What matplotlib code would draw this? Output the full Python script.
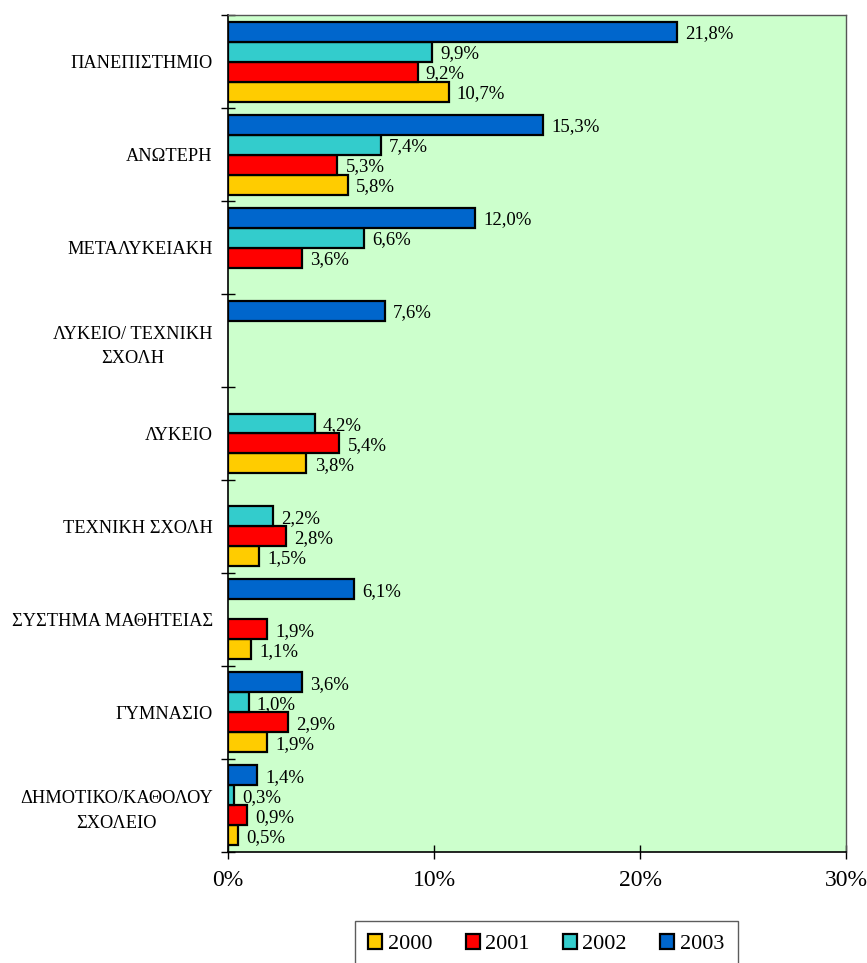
import matplotlib.pyplot as plt
import numpy as np
from matplotlib.patches import Patch

plt.rcParams['font.family'] = ['Liberation Serif', 'DejaVu Serif']

# dati
categorie = ["ΠΑΝΕΠΙΣΤΗΜΙΟ", "ΑΝΩΤΕΡΗ", "ΜΕΤΑΛΥΚΕΙΑΚΗ", "ΛΥΚΕΙΟ/ ΤΕΧΝΙΚΗ\nΣΧΟΛΗ",
             "ΛΥΚΕΙΟ", "ΤΕΧΝΙΚΗ ΣΧΟΛΗ", "ΣΥΣΤΗΜΑ ΜΑΘΗΤΕΙΑΣ", "ΓΥΜΝΑΣΙΟ",
             "ΔΗΜΟΤΙΚΟ/ΚΑΘΟΛΟΥ\nΣΧΟΛΕΙΟ"]
anni = ["2000", "2001", "2002", "2003"]
v2000 = [10.7, 5.8, None, None, 3.8, 1.5, 1.1, 1.9, 0.5]
v2001 = [9.2, 5.3, 3.6, None, 5.4, 2.8, 1.9, 2.9, 0.9]
v2002 = [9.9, 7.4, 6.6, None, 4.2, 2.2, None, 1.0, 0.3]
v2003 = [21.8, 15.3, 12.0, 7.6, None, None, 6.1, 3.6, 1.4]
colori = ["#FFCC00", "#FF0000", "#33CCCC", "#0066CC"]

serie = [v2000, v2001, v2002, v2003]
h = 0.215
offset = [1.5 * h, 0.5 * h, -0.5 * h, -1.5 * h]

fig = plt.figure(figsize=(8.67, 9.63), dpi=100)
ax = fig.add_axes([0.263, 0.1153, 0.713, 0.8691])
ax.set_facecolor("#CCFFCC")

y = np.arange(len(categorie))
for vals, col, off in zip(serie, colori, offset):
    for i, v in enumerate(vals):
        if v is None:
            continue
        ax.barh(y[i] + off, v, height=h, color=col, edgecolor="black", linewidth=1.6)
        ax.text(v + 0.4, y[i] + off + 0.02, f"{v:.1f}%".replace(".", ","),
                va="center", ha="left", fontsize=13.5)

ax.set_xlim(0, 30)
ax.set_ylim(len(categorie) - 0.5, -0.5)
ax.set_xticks([0, 10, 20, 30])
ax.set_xticklabels(["0%", "10%", "20%", "30%"], fontsize=17)
ax.tick_params(axis="x", direction="inout", length=10, width=1, pad=8)

ax.set_yticks(np.arange(-0.5, len(categorie), 1))
ax.set_yticklabels([])
ax.tick_params(axis="y", which="major", direction="inout", length=10, width=1)
ax.set_yticks(y, minor=True)
ax.set_yticklabels(categorie, minor=True, fontsize=13.2, multialignment="center", linespacing=1.6)
ax.tick_params(axis="y", which="minor", length=0, pad=11)

for s in ["top", "right"]:
    ax.spines[s].set_color("#555555")
    ax.spines[s].set_linewidth(1)
for s in ["left", "bottom"]:
    ax.spines[s].set_color("black")
    ax.spines[s].set_linewidth(1.2)

handles = [Patch(facecolor=c, edgecolor="black", linewidth=1.6, label=a) for c, a in zip(colori, anni)]
leg = fig.legend(handles=handles, loc="upper center", bbox_to_anchor=(0.63, 0.0436), ncol=4,
                 fontsize=16, frameon=True, fancybox=False, edgecolor="#333333",
                 handlelength=0.63, handleheight=0.63, handletextpad=0.25, columnspacing=1.5,
                 borderpad=0.6, borderaxespad=0)
leg.get_frame().set_linewidth(1)

fig.savefig("out.png", dpi=100)
